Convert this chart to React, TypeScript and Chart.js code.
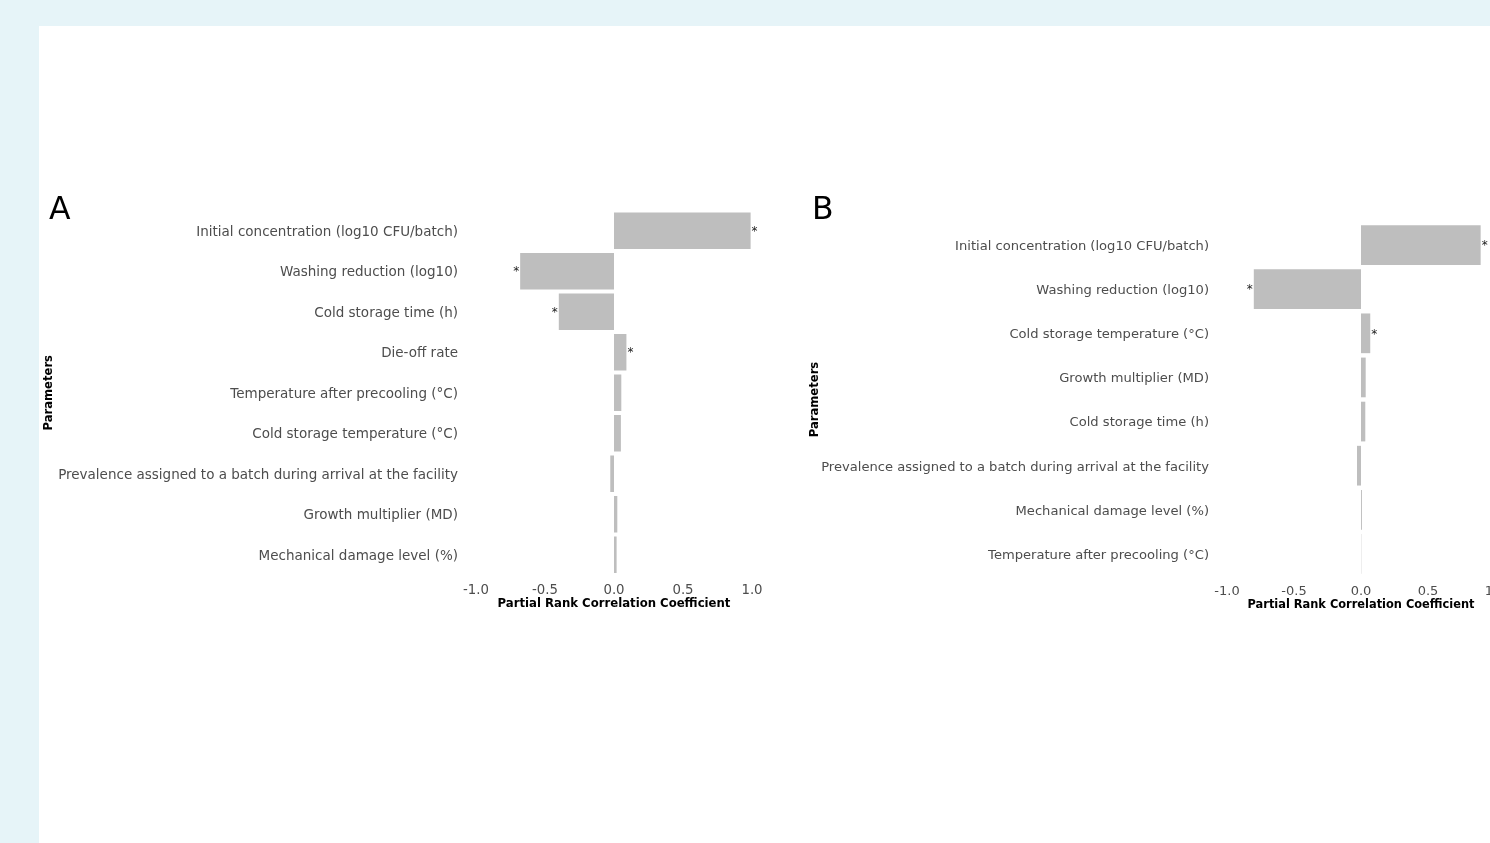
import React, { useEffect, useRef } from "react";
import { Chart, registerables } from "chart.js";

Chart.register(...registerables);

// ---------- Data ----------
const paramsA = [
  "Initial concentration (log10 CFU/batch)",
  "Washing reduction (log10)",
  "Cold storage time (h)",
  "Die-off rate",
  "Temperature after precooling (°C)",
  "Cold storage temperature (°C)",
  "Prevalence assigned to a batch during arrival at the facility",
  "Growth multiplier (MD)",
  "Mechanical damage level (%)",
];
const prccA = [0.99, -0.68, -0.4, 0.09, 0.053, 0.05, -0.027, 0.024, 0.019];
const sigA = [true, true, true, true, false, false, false, false, false];

const paramsB = [
  "Initial concentration (log10 CFU/batch)",
  "Washing reduction (log10)",
  "Cold storage temperature (°C)",
  "Growth multiplier (MD)",
  "Cold storage time (h)",
  "Prevalence assigned to a batch during arrival at the facility",
  "Mechanical damage level (%)",
  "Temperature after precooling (°C)",
];
const prccB = [0.893, -0.8, 0.069, 0.035, 0.032, -0.03, 0.007, 0.002];
const sigB = [true, true, true, false, false, false, false, false];

const xTickValues = [-1, -0.5, 0, 0.5, 1];
const xTitle = "Partial Rank Correlation Coefficient";
const yTitle = "Parameters";

const FONT = "'DejaVu Sans', sans-serif";

// ---------- Plugin: asterisks + panel letter ----------
const annotPlugin = {
  id: "annot",
  afterDatasetsDraw(chart: any, _args: any, opts: any) {
    const ctx = chart.ctx;
    const meta = chart.getDatasetMeta(0);
    const data = chart.data.datasets[0].data as number[];
    ctx.save();
    ctx.fillStyle = "#222222";
    ctx.font = `${opts.starSize}px ${FONT}`;
    ctx.textBaseline = "alphabetic";
    meta.data.forEach((bar: any, i: number) => {
      if (!opts.sig[i]) return;
      const { x, base, y } = bar.getProps(["x", "base", "y"], true);
      const yy = y + opts.starSize * 0.35;
      if (data[i] >= 0) {
        ctx.textAlign = "left";
        ctx.fillText("*", Math.max(x, base) + 1, yy);
      } else {
        ctx.textAlign = "right";
        ctx.fillText("*", Math.min(x, base) - 1, yy);
      }
    });
    ctx.fillStyle = "#000000";
    ctx.font = `${opts.letterSize}px ${FONT}`;
    ctx.textAlign = "left";
    ctx.textBaseline = "alphabetic";
    ctx.fillText(opts.letter, opts.letterX, opts.letterY);
    ctx.restore();
  },
};

type PanelProps = {
  labels: string[];
  values: number[];
  sig: boolean[];
  letter: string;
  left: number;
  top: number;
  width: number;
  height: number;
  padTop: number;
  padRight: number;
  yAxisWidth: number;
  xAxisHeight: number;
  labelFont: number;
  tickFont: number;
  xTitleFont: number;
  yTitleFont: number;
  letterX: number;
  letterY: number;
};

function Panel(p: PanelProps) {
  const ref = useRef<HTMLCanvasElement | null>(null);
  useEffect(() => {
    if (!ref.current) return;
    const chart = new Chart(ref.current, {
      type: "bar",
      data: {
        labels: p.labels,
        datasets: [
          {
            data: p.values,
            backgroundColor: "#bebebe",
            borderWidth: 0,
            categoryPercentage: 1,
            barPercentage: 0.9,
          },
        ],
      },
      options: {
        indexAxis: "y",
        animation: false,
        responsive: false,
        devicePixelRatio: 1,
        layout: { padding: { top: p.padTop, right: p.padRight, left: 0, bottom: 0 } },
        plugins: {
          legend: { display: false },
          tooltip: { enabled: false },
          annot: {
            sig: p.sig,
            starSize: 12,
            letter: p.letter,
            letterSize: 31.5,
            letterX: p.letterX,
            letterY: p.letterY,
          },
        } as any,
        scales: {
          x: {
            type: "linear",
            min: -1,
            max: 1,
            afterBuildTicks: (scale: any) => {
              scale.ticks = xTickValues.map((v) => ({ value: v }));
            },
            afterFit: (scale: any) => {
              scale.height = p.xAxisHeight;
              scale.paddingLeft = 0;
              scale.paddingRight = 0;
            },
            grid: { display: false, drawTicks: false },
            border: { display: false },
            ticks: {
              padding: 8,
              color: "#4d4d4d",
              font: { family: FONT, size: p.tickFont },
              callback: (v: any) => Number(v).toFixed(1),
              autoSkip: false,
              maxRotation: 0,
            },
            title: {
              display: true,
              text: xTitle,
              color: "#000000",
              font: { family: FONT, size: p.xTitleFont, weight: "bold" },
              padding: { top: 0, bottom: 0 },
            },
          },
          y: {
            type: "category",
            afterFit: (scale: any) => {
              scale.width = p.yAxisWidth;
              scale.paddingTop = 0;
              scale.paddingBottom = 0;
            },
            grid: { display: false, drawTicks: false },
            border: { display: false },
            ticks: {
              padding: 18,
              labelOffset: 1.5,
              color: "#4d4d4d",
              font: { family: FONT, size: p.labelFont },
              autoSkip: false,
            },
            title: {
              display: true,
              text: yTitle,
              color: "#000000",
              font: { family: FONT, size: p.yTitleFont, weight: "bold" },
              padding: { top: 3, bottom: 0 },
            },
          },
        },
      },
      plugins: [annotPlugin as any],
    });
    return () => chart.destroy();
  }, []);
  return (
    <div
      style={{
        position: "absolute",
        left: p.left,
        top: p.top,
        width: p.width,
        height: p.height,
      }}
    >
      <canvas
        ref={ref}
        width={p.width}
        height={p.height}
        style={{ width: p.width, height: p.height, display: "block" }}
      />
    </div>
  );
}

export default function App() {
  return (
    <div
      style={{
        position: "fixed",
        left: 0,
        top: 0,
        width: 1490,
        height: 843,
        overflow: "hidden",
        background: "#e6f4f8",
      }}
    >
      <div
        style={{
          position: "absolute",
          left: 39,
          top: 26,
          right: 0,
          bottom: 0,
          background: "#ffffff",
        }}
      />
      <Panel
        labels={paramsA}
        values={prccA}
        sig={sigA}
        letter="A"
        left={39}
        top={150}
        width={760}
        height={461}
        padTop={60.5}
        padRight={47}
        yAxisWidth={437}
        xAxisHeight={36}
        labelFont={13.5}
        tickFont={13.3}
        xTitleFont={11.7}
        yTitleFont={11.6}
        letterX={10}
        letterY={68.5}
      />
      <Panel
        labels={paramsB}
        values={prccB}
        sig={sigB}
        letter="B"
        left={805}
        top={150}
        width={730}
        height={462}
        padTop={73}
        padRight={40}
        yAxisWidth={422}
        xAxisHeight={36}
        labelFont={13.1}
        tickFont={13}
        xTitleFont={11.4}
        yTitleFont={11.6}
        letterX={7}
        letterY={68.5}
      />
    </div>
  );
}
